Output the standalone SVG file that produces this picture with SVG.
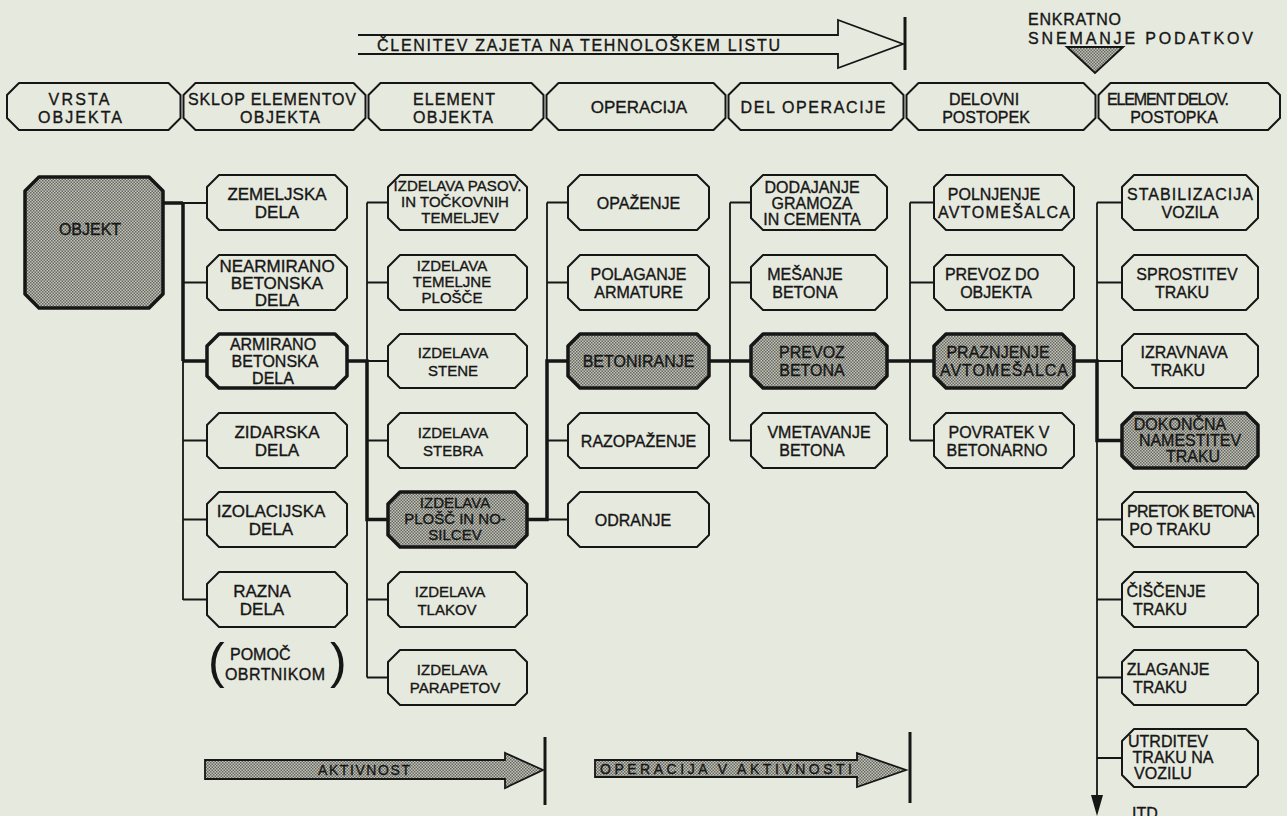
<svg xmlns="http://www.w3.org/2000/svg" width="1287" height="816" viewBox="0 0 1287 816">
<defs>
<pattern id="stip" width="3" height="3" patternUnits="userSpaceOnUse">
<rect width="3" height="3" fill="#c3c5bb"/>
<rect width="1.5" height="1.5" fill="#66685f"/>
<rect x="1.5" y="1.5" width="1.5" height="1.5" fill="#66685f"/>
</pattern>
</defs>
<style>
.bx{fill:#e6e9de;stroke:#161616;stroke-width:2;stroke-linejoin:round}
.hl{stroke-width:3.5}
.gr{fill:url(#stip);stroke:#161616;stroke-width:3.5;stroke-linejoin:round}
.t{font-family:"Liberation Sans",Arial,sans-serif;font-size:16px;fill:#161616;stroke:#161616;stroke-width:0.35;text-anchor:middle}
.s{font-size:15px}
.l{font-size:17px}
.c{stroke:#161616;stroke-width:1.8;fill:none}
.k{stroke-width:3.5}
.bar{stroke:#161616;stroke-width:3;fill:none}
</style>
<rect width="1287" height="816" fill="#e6e9de"/>

<g id="top-arrow">
<path class="c" d="M358,35 H838 V20 L903,44 L838,68 V54 H358" stroke-width="2.2"/>
<path class="bar" d="M905,17 V70"/>
<text class="t" x="377" y="51" style="text-anchor:start;font-size:16px" textLength="403" lengthAdjust="spacing">ČLENITEV ZAJETA NA TEHNOLOŠKEM LISTU</text>
</g>

<g id="enkratno">
<text class="t" x="1028" y="25" style="text-anchor:start" textLength="93">ENKRATNO</text>
<text class="t" x="1028" y="44" style="text-anchor:start" textLength="225" lengthAdjust="spacing">SNEMANJE PODATKOV</text>
<polygon points="1067,47 1123,47 1095,73" fill="url(#stip)" stroke="#161616" stroke-width="2"/>
</g>

<g id="header">
<g id="h1"><polygon class="bx" points="19,83 168.5,83 180.5,95 180.5,118 168.5,130 19,130 7,118 7,95"/>
<text class="t" x="79" y="105" textLength="61">VRSTA</text><text class="t" x="80" y="123" textLength="84">OBJEKTA</text></g>
<g id="h2"><polygon class="bx" points="195.5,83 353.5,83 365.5,95 365.5,118 353.5,130 195.5,130 183.5,118 183.5,95"/>
<text class="t" x="272" y="105" textLength="168">SKLOP ELEMENTOV</text><text class="t" x="280" y="123" textLength="80">OBJEKTA</text></g>
<g id="h3"><polygon class="bx" points="380.5,83 531.5,83 543.5,95 543.5,118 531.5,130 380.5,130 368.5,118 368.5,95"/>
<text class="t" x="454" y="105" textLength="82">ELEMENT</text><text class="t" x="453" y="123" textLength="80">OBJEKTA</text></g>
<g id="h4"><polygon class="bx" points="558.5,83 713.5,83 725.5,95 725.5,118 713.5,130 558.5,130 546.5,118 546.5,95"/>
<text class="t l" x="639" y="113">OPERACIJA</text></g>
<g id="h5"><polygon class="bx" points="740.5,83 891.5,83 903.5,95 903.5,118 891.5,130 740.5,130 728.5,118 728.5,95"/>
<text class="t" x="813" y="113" textLength="145" lengthAdjust="spacing">DEL OPERACIJE</text></g>
<g id="h6"><polygon class="bx" points="918.5,83 1083.5,83 1095.5,95 1095.5,118 1083.5,130 918.5,130 906.5,118 906.5,95"/>
<text class="t" x="984" y="105">DELOVNI</text><text class="t" x="986" y="123">POSTOPEK</text></g>
<g id="h7"><polygon class="bx" points="1110.5,83 1268,83 1280,95 1280,118 1268,130 1110.5,130 1098.5,118 1098.5,95"/>
<text class="t" x="1168" y="105" textLength="122">ELEMENT DELOV.</text><text class="t" x="1174" y="123">POSTOPKA</text></g>
</g>

<g id="connectors">
<path class="c k" d="M163,203 H183 M183,203 V361 M183,361 H207"/>
<path class="c" d="M183,203 H207 M183,361 V600 M183,282.5 H207 M183,440.5 H207 M183,519.5 H207 M183,599.5 H207"/>
<path class="c k" d="M347,361 H367 V519.5 H388"/>
<path class="c" d="M367,202.5 V677.5 M367,202.5 H388 M367,282.5 H388 M367,361 H388 M367,440.5 H388 M367,599.5 H388 M367,677.5 H388"/>
<path class="c k" d="M527,519.5 H547 V361 H568"/>
<path class="c" d="M547,202.5 V519.5 M547,202.5 H568 M547,282.5 H568 M547,440.5 H568 M547,519.5 H568"/>
<path class="c k" d="M709,361 H751"/>
<path class="c" d="M730,202.5 V440.5 M730,202.5 H751 M730,282.5 H751 M730,440.5 H751"/>
<path class="c k" d="M887,361 H934"/>
<path class="c" d="M910,202.5 V440.5 M910,202.5 H934 M910,282.5 H934 M910,440.5 H934"/>
<path class="c k" d="M1074,361 H1097 V440.5 H1122"/>
<path class="c" d="M1097,202.5 V800 M1097,202.5 H1122 M1097,282.5 H1122 M1097,361 H1122 M1097,519.5 H1122 M1097,599.5 H1122 M1097,677.5 H1122 M1097,758 H1122"/>
<polygon points="1091,795 1103,795 1097,816" fill="#161616"/>
</g>

<g id="n-objekt">
<polygon class="gr" points="39,177 149,177 163,191 163,294 149,308 39,308 25,294 25,191"/>
<text class="t" x="90" y="235">OBJEKT</text>
</g>

<g id="n-zemeljska"><polygon class="bx" points="219,175 335,175 347,187 347,218 335,230 219,230 207,218 207,187"/>
<text class="t l" x="277" y="199.5">ZEMELJSKA</text><text class="t l" x="277" y="217.5">DELA</text></g>
<g id="n-nearmirano"><polygon class="bx" points="219,255 335,255 347,267 347,298 335,310 219,310 207,298 207,267"/>
<text class="t l" x="277" y="272">NEARMIRANO</text><text class="t l" x="277" y="289">BETONSKA</text><text class="t l" x="277" y="306">DELA</text></g>
<g id="n-armirano"><polygon class="bx hl" points="219,334 335,334 347,346 347,376 335,388 219,388 207,376 207,346"/>
<text class="t" x="273" y="350">ARMIRANO</text><text class="t" x="275" y="367">BETONSKA</text><text class="t" x="273" y="384">DELA</text></g>
<g id="n-zidarska"><polygon class="bx" points="219,413 335,413 347,425 347,456 335,468 219,468 207,456 207,425"/>
<text class="t l" x="277" y="437.5">ZIDARSKA</text><text class="t l" x="277" y="455.5">DELA</text></g>
<g id="n-izolacijska"><polygon class="bx" points="219,492 335,492 347,504 347,535 335,547 219,547 207,535 207,504"/>
<text class="t l" x="271" y="516.5">IZOLACIJSKA</text><text class="t l" x="271" y="534.5">DELA</text></g>
<g id="n-razna"><polygon class="bx" points="219,572 335,572 347,584 347,615 335,627 219,627 207,615 207,584"/>
<text class="t l" x="262" y="596.5">RAZNA</text><text class="t l" x="262" y="614.5">DELA</text></g>
<g id="pomoc">
<text class="t" x="208" y="678" style="text-anchor:start;font-size:50px;stroke-width:0">(</text>
<text class="t" x="230" y="660" style="text-anchor:start">POMOČ</text>
<text class="t" x="225" y="680" style="text-anchor:start" textLength="100">OBRTNIKOM</text>
<text class="t" x="330" y="678" style="text-anchor:start;font-size:50px;stroke-width:0">)</text>
</g>

<g id="n-pasov"><polygon class="bx" points="400,175 515,175 527,187 527,218 515,230 400,230 388,218 388,187"/>
<text class="t s" x="457.5" y="191" textLength="128">IZDELAVA PASOV.</text><text class="t s" x="455" y="207">IN TOČKOVNIH</text><text class="t s" x="460" y="223">TEMELJEV</text></g>
<g id="n-temeljne"><polygon class="bx" points="400,255 515,255 527,267 527,298 515,310 400,310 388,298 388,267"/>
<text class="t s" x="452" y="271">IZDELAVA</text><text class="t s" x="452" y="287">TEMELJNE</text><text class="t s" x="452" y="303">PLOŠČE</text></g>
<g id="n-stene"><polygon class="bx" points="400,334 515,334 527,346 527,376 515,388 400,388 388,376 388,346"/>
<text class="t s" x="453" y="358">IZDELAVA</text><text class="t s" x="453" y="376">STENE</text></g>
<g id="n-stebra"><polygon class="bx" points="400,413 515,413 527,425 527,456 515,468 400,468 388,456 388,425"/>
<text class="t s" x="453" y="437.5">IZDELAVA</text><text class="t s" x="453" y="455.5">STEBRA</text></g>
<g id="n-plosc"><polygon class="gr" points="400,492 515,492 527,504 527,535 515,547 400,547 388,535 388,504"/>
<text class="t s" x="455" y="508">IZDELAVA</text><text class="t s" x="455" y="524">PLOŠČ IN NO-</text><text class="t s" x="455" y="540">SILCEV</text></g>
<g id="n-tlakov"><polygon class="bx" points="400,572 515,572 527,584 527,615 515,627 400,627 388,615 388,584"/>
<text class="t s" x="450" y="596.5">IZDELAVA</text><text class="t s" x="447" y="614.5">TLAKOV</text></g>
<g id="n-parapetov"><polygon class="bx" points="400,650 515,650 527,662 527,693 515,705 400,705 388,693 388,662"/>
<text class="t s" x="452" y="674.5">IZDELAVA</text><text class="t s" x="455" y="692.5">PARAPETOV</text></g>

<g id="n-opazenje"><polygon class="bx" points="580,175 697,175 709,187 709,218 697,230 580,230 568,218 568,187"/>
<text class="t" x="638.5" y="208.5">OPAŽENJE</text></g>
<g id="n-polaganje"><polygon class="bx" points="580,255 697,255 709,267 709,298 697,310 580,310 568,298 568,267"/>
<text class="t" x="638.5" y="279.5">POLAGANJE</text><text class="t" x="638.5" y="297.5">ARMATURE</text></g>
<g id="n-betoniranje"><polygon class="gr" points="580,334 697,334 709,346 709,376 697,388 580,388 568,376 568,346"/>
<text class="t" x="638.5" y="367">BETONIRANJE</text></g>
<g id="n-razopazenje"><polygon class="bx" points="580,413 697,413 709,425 709,456 697,468 580,468 568,456 568,425"/>
<text class="t" x="638.5" y="446.5">RAZOPAŽENJE</text></g>
<g id="n-odranje"><polygon class="bx" points="580,492 697,492 709,504 709,535 697,547 580,547 568,535 568,504"/>
<text class="t" x="633" y="525.5">ODRANJE</text></g>

<g id="n-dodajanje"><polygon class="bx" points="763,175 875,175 887,187 887,218 875,230 763,230 751,218 751,187"/>
<text class="t" x="812" y="193">DODAJANJE</text><text class="t" x="812" y="209">GRAMOZA</text><text class="t" x="812" y="225">IN CEMENTA</text></g>
<g id="n-mesanje"><polygon class="bx" points="763,255 875,255 887,267 887,298 875,310 763,310 751,298 751,267"/>
<text class="t" x="805" y="279.5">MEŠANJE</text><text class="t" x="805" y="297.5">BETONA</text></g>
<g id="n-prevoz-betona"><polygon class="gr" points="763,334 875,334 887,346 887,376 875,388 763,388 751,376 751,346"/>
<text class="t" x="812" y="358">PREVOZ</text><text class="t" x="812" y="376">BETONA</text></g>
<g id="n-vmetavanje"><polygon class="bx" points="763,413 875,413 887,425 887,456 875,468 763,468 751,456 751,425"/>
<text class="t" x="819" y="437.5">VMETAVANJE</text><text class="t" x="812" y="455.5">BETONA</text></g>

<g id="n-polnjenje"><polygon class="bx" points="946,175 1062,175 1074,187 1074,218 1062,230 946,230 934,218 934,187"/>
<text class="t" x="994" y="199.5">POLNJENJE</text><text class="t" x="1004" y="217.5" textLength="132">AVTOMEŠALCA</text></g>
<g id="n-prevoz-do"><polygon class="bx" points="946,255 1062,255 1074,267 1074,298 1062,310 946,310 934,298 934,267"/>
<text class="t" x="992" y="279.5">PREVOZ DO</text><text class="t" x="996" y="297.5">OBJEKTA</text></g>
<g id="n-praznjenje"><polygon class="gr" points="946,334 1062,334 1074,346 1074,376 1062,388 946,388 934,376 934,346"/>
<text class="t" x="998" y="358">PRAZNJENJE</text><text class="t" x="1004" y="376" textLength="128">AVTOMEŠALCA</text></g>
<g id="n-povratek"><polygon class="bx" points="946,413 1062,413 1074,425 1074,456 1062,468 946,468 934,456 934,425"/>
<text class="t" x="999" y="437.5">POVRATEK V</text><text class="t" x="997" y="455.5">BETONARNO</text></g>

<g id="n-stabilizacija"><polygon class="bx" points="1134,175 1246,175 1258,187 1258,218 1246,230 1134,230 1122,218 1122,187"/>
<text class="t" x="1190" y="199.5" textLength="126">STABILIZACIJA</text><text class="t" x="1190" y="217.5">VOZILA</text></g>
<g id="n-sprostitev"><polygon class="bx" points="1134,255 1246,255 1258,267 1258,298 1246,310 1134,310 1122,298 1122,267"/>
<text class="t" x="1187" y="279.5">SPROSTITEV</text><text class="t" x="1182" y="297.5">TRAKU</text></g>
<g id="n-izravnava"><polygon class="bx" points="1134,334 1246,334 1258,346 1258,376 1246,388 1134,388 1122,376 1122,346"/>
<text class="t" x="1184" y="358">IZRAVNAVA</text><text class="t" x="1178" y="376">TRAKU</text></g>
<g id="n-dokoncna"><polygon class="gr" points="1134,413 1246,413 1258,425 1258,456 1246,468 1134,468 1122,456 1122,425"/>
<text class="t" x="1180" y="430">DOKONČNA</text><text class="t" x="1190" y="446">NAMESTITEV</text><text class="t" x="1193" y="462">TRAKU</text></g>
<g id="n-pretok"><polygon class="bx" points="1134,492 1246,492 1258,504 1258,535 1246,547 1134,547 1122,535 1122,504"/>
<text class="t" x="1191" y="516.5" textLength="128">PRETOK BETONA</text><text class="t" x="1170" y="534.5">PO TRAKU</text></g>
<g id="n-ciscenje"><polygon class="bx" points="1134,572 1246,572 1258,584 1258,615 1246,627 1134,627 1122,615 1122,584"/>
<text class="t" x="1166" y="596.5">ČIŠČENJE</text><text class="t" x="1160" y="614.5">TRAKU</text></g>
<g id="n-zlaganje"><polygon class="bx" points="1134,650 1246,650 1258,662 1258,693 1246,705 1134,705 1122,693 1122,662"/>
<text class="t" x="1168" y="674.5">ZLAGANJE</text><text class="t" x="1160" y="692.5">TRAKU</text></g>
<g id="n-utrditev"><polygon class="bx" points="1134,729 1246,729 1258,741 1258,775 1246,787 1134,787 1122,775 1122,741"/>
<text class="t" x="1168" y="747">UTRDITEV</text><text class="t" x="1173" y="763">TRAKU NA</text><text class="t" x="1163" y="779">VOZILU</text></g>
<text class="t" x="1132" y="819" style="text-anchor:start">ITD</text>

<g id="aktivnost">
<polygon points="205,760 505,760 505,753 543,770 505,788 505,779 205,779" fill="url(#stip)" stroke="#161616" stroke-width="1.8"/>
<text class="t" x="364" y="775" style="font-size:14px" textLength="92">AKTIVNOST</text>
<path class="bar" d="M545,737 V805"/>
</g>
<g id="operacija-v-aktivnosti">
<polygon points="595,760 857,760 857,753 906,770 857,787 857,777 595,777" fill="url(#stip)" stroke="#161616" stroke-width="1.8"/>
<text class="t" x="600" y="774" style="text-anchor:start;font-size:14px" textLength="252">OPERACIJA V AKTIVNOSTI</text>
<path class="bar" d="M910,732 V803"/>
</g>
</svg>
